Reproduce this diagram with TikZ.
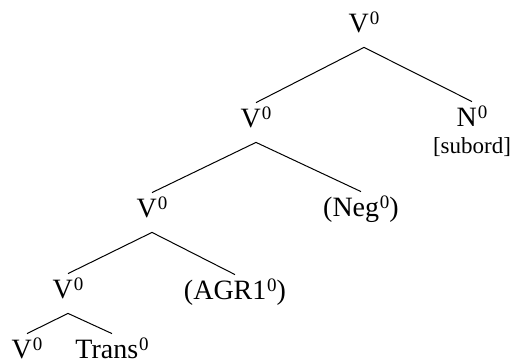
\documentclass[tikz,border=0pt]{standalone}
\usepackage{fontspec}
\setmainfont{Liberation Serif}
\usetikzlibrary{positioning}
\newcommand{\bzero}{\kern0.4pt\raisebox{4pt}{\fontsize{9.5}{10}\selectfont 0}}

\begin{document}
\begin{tikzpicture}[
  x=0.5pt,y=-0.5pt,
  font=\fontsize{14}{16}\selectfont,
  cat/.style={anchor=base,inner xsep=0pt,inner ysep=3.5pt,text height=9pt,text depth=3.5pt},
  feat/.style={anchor=base,inner sep=0pt,font=\fontsize{11.5}{13}\selectfont},
  branch/.style={line width=0.5pt}
]
  \useasboundingbox (0,0) rectangle (513,362);

  \node[cat] (top) at (364,33) {V\bzero};
  \node[cat] (vb) at (256,128) {V\bzero};
  \node[cat] (nz) at (472,127) {N\bzero};
  \node[feat] (sub) at (472,154) {[subord]};
  \node[cat] (vc) at (152,218) {V\bzero};
  \node[cat] (neg) at (361,217) {(Neg\bzero)};
  \node[cat] (vd) at (68,299) {V\bzero};
  \node[cat] (agr) at (235,300) {(AGR1\bzero)};
  \node[cat] (ve) at (27,359) {V\bzero};
  \node[cat] (trans) at (112,359) {Trans\bzero};

  \draw[branch] (top.south) -- (vb.north);
  \draw[branch] (top.south) -- (nz.north);
  \draw[branch] (vb.south) -- (vc.north);
  \draw[branch] (vb.south) -- (neg.north);
  \draw[branch] (vc.south) -- (vd.north);
  \draw[branch] (vc.south) -- (agr.north);
  \draw[branch] (vd.south) -- (ve.north);
  \draw[branch] (vd.south) -- (trans.north);
\end{tikzpicture}
\end{document}
